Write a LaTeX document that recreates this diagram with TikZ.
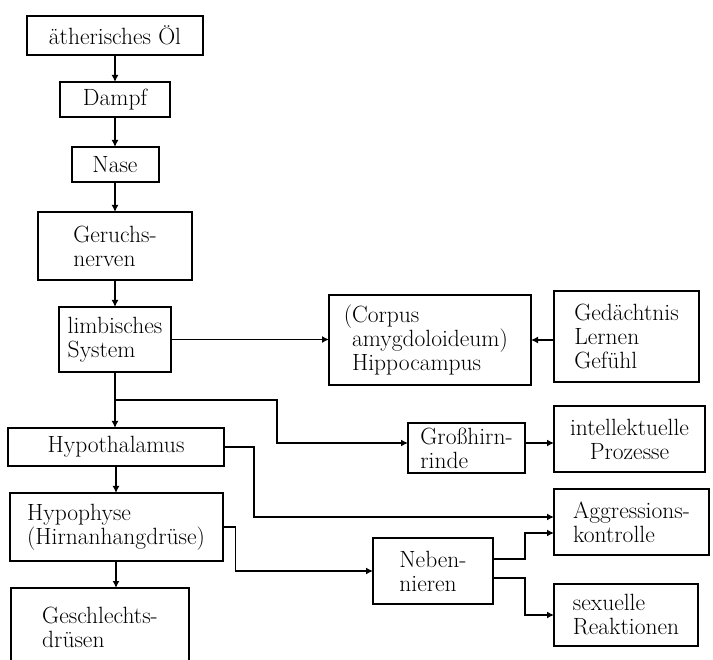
\documentclass[tikz,border=0pt]{standalone}
\usepackage{tikz}
\usetikzlibrary{arrows.meta, positioning, calc}

\begin{document}
\begin{tikzpicture}[
    x=1pt, y=-1pt,
    node distance=27pt,
    box/.style={draw, line width=2pt, inner sep=2pt, outer sep=0pt, align=center,
                font=\fontsize{23.5}{24}\selectfont},
    lbox/.style={box, align=left},
    arr/.style={line width=1.6pt, -{Latex[length=7pt,width=7pt]}}
]
    \useasboundingbox (0,0) rectangle (713,660);

    % Hauptkette links
    \node[box, minimum width=176pt, minimum height=39pt] (oel) at (115,35.5) {ätherisches Öl};
    \node[box, minimum width=110pt, minimum height=35pt, below=of oel] (dampf) {Dampf};
    \node[box, minimum width=87pt, minimum height=35pt, below=30pt of dampf] (nase) {Nase};
    \node[lbox, minimum width=154pt, minimum height=68pt, below=30pt of nase] (geruch) {Geruchs-\\nerven};
    \node[lbox, minimum width=112pt, minimum height=65pt, inner sep=1pt, below=of geruch] (limb) {limbisches\\System};
    \node[box, minimum width=216pt, minimum height=38pt, below=56pt of limb, xshift=1pt] (hypoth) {Hypothalamus};
    \node[lbox, minimum width=213pt, minimum height=68pt, below=of hypoth] (hypoph) {Hypophyse\\(Hirnanhangdrüse)};
    \node[lbox, minimum width=178pt, minimum height=78pt, below=of hypoph, xshift=-16pt] (geschl) {Geschlechts-\\drüsen};

    % Mitte
    \node[lbox, minimum width=202pt, minimum height=90pt] (corpus) at (430,340) {\llap{(}Corpus\\amygdoloideum)\\Hippocampus};
    \node[lbox, minimum width=117pt, minimum height=50pt, inner sep=1pt] (gross) at (466.5,448) {Großhirn-\\rinde};
    \node[lbox, minimum width=120pt, minimum height=66pt] (neben) at (433,571) {Neben-\\nieren};

    % rechte Spalte
    \node[lbox, anchor=west, minimum width=145pt, minimum height=91pt] (gedacht) at (554,336.5) {Gedächtnis\\Lernen\\Gefühl};
    \node[box, anchor=west, minimum width=151pt, minimum height=66pt] (intel) at (554,439) {intellektuelle\\Prozesse};
    \node[lbox, anchor=west, minimum width=155pt, minimum height=66pt] (aggr) at (554,522) {Aggressions-\\kontrolle};
    \node[lbox, anchor=west, minimum width=144pt, minimum height=62pt] (sex) at (554,615) {sexuelle\\Reaktionen};

    % Verbindungen Hauptkette
    \draw[arr] (oel.south) -- (oel.south |- dampf.north);
    \draw[arr] (dampf.south) -- (dampf.south |- nase.north);
    \draw[arr] (nase.south) -- (nase.south |- geruch.north);
    \draw[arr] (geruch.south) -- (geruch.south |- limb.north);
    \draw[arr] (limb.south) -- (limb.south |- hypoth.north);
    \draw[arr] (hypoth.south) -- (hypoth.south |- hypoph.north);
    \draw[arr] (hypoph.south) -- (hypoph.south |- geschl.north);

    % Verzweigungen
    \coordinate (br) at ($(limb.south)!0.5!(limb.south |- hypoth.north)$);
    \draw[arr] (limb.east) -- (limb.east -| corpus.west);
    \draw[arr] (corpus.east -| gedacht.west) -- (corpus.east);
    \draw[arr] (br) -- ++(162,0) |- ([yshift=5pt]gross.west);
    \draw[arr] ([yshift=5pt]gross.east) -- ([yshift=5pt]gross.east -| intel.west);
    \draw[arr] (hypoth.east) -- ++(30,0) |- ([yshift=5pt]aggr.west);
    \draw[arr] (hypoph.east) -- ++(13,0) |- (neben.west);
    \draw[arr] ([yshift=12pt]neben.east) -- ++(32,0) |- ([yshift=-11pt]aggr.west);
    \draw[arr] ([yshift=-7pt]neben.east) -- ++(32,0) |- (sex.west);
\end{tikzpicture}
\end{document}
